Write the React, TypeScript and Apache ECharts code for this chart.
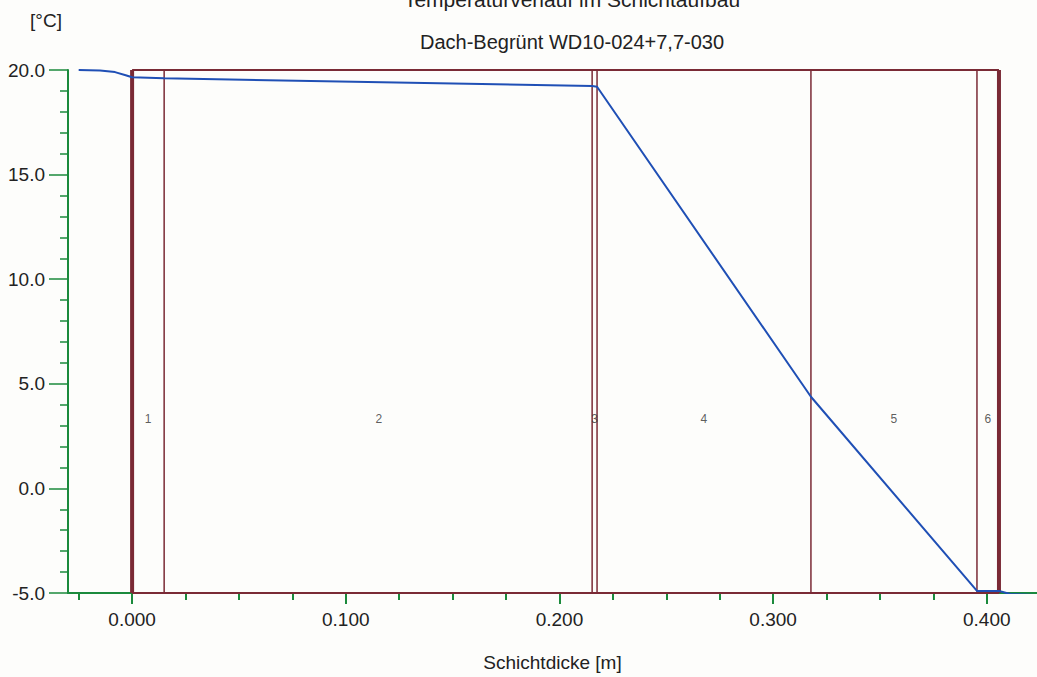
import React, { useEffect, useRef } from "react";
import * as echarts from "echarts";

const titleText = "Temperaturverlauf im Schichtaufbau";
const subtitleText = "Dach-Begrünt WD10-024+7,7-030";
const yUnit = "[°C]";
const xName = "Schichtdicke [m]";

// layer boundaries [m]
const boundaries = [0, 0.015, 0.2153, 0.2176, 0.3177, 0.3954, 0.4057];
const thickBoundaries = [0, 0.4057];
const layerLabels = ["1", "2", "3", "4", "5", "6"];
const layerLabelX = [0.0075, 0.1155, 0.2164, 0.2676, 0.3565, 0.4005];
const layerLabelY = 3.3;

// temperature curve
const tempX = [-0.025, -0.015, -0.008, -0.003, 0, 0.015, 0.2153, 0.2176, 0.3177, 0.3954, 0.4057, 0.411, 0.4235];
const tempY = [20.0, 19.98, 19.9, 19.75, 19.65, 19.6, 19.24, 19.2, 4.38, -4.9, -4.9, -5.05, -5.1];

const xMajorTicks = [0, 0.1, 0.2, 0.3, 0.4];
const xMinorTicks = [-0.025, 0.025, 0.05, 0.075, 0.125, 0.15, 0.175, 0.225, 0.25, 0.275, 0.325, 0.35, 0.375];

const X_MIN = -0.03;
const X_MAX = 0.4235;

const BROWN = "#7a2a35";
const GREEN = "#1b8a3c";
const BLUE = "#1f4fb5";
const FONT = "Liberation Sans";

export default function App() {
  const ref = useRef<HTMLDivElement>(null);
  useEffect(() => {
    if (!ref.current) return;
    const chart = echarts.init(ref.current, undefined, { renderer: "svg" });
    const top = 20, bottom = -5;
    const boxSeries: any[] = boundaries.map((b) => ({
      type: "line",
      data: [[b, bottom], [b, top]],
      symbol: "none",
      silent: true,
      lineStyle: { color: BROWN, width: thickBoundaries.includes(b) ? 4 : 1.5 },
      z: 2,
    }));
    boxSeries.push({
      type: "line",
      data: [[boundaries[0], top], [boundaries[boundaries.length - 1], top]],
      symbol: "none",
      lineStyle: { color: BROWN, width: 2 },
      z: 2,
    });
    boxSeries.push({
      type: "line",
      data: [[boundaries[0], bottom], [boundaries[boundaries.length - 1], bottom]],
      symbol: "none",
      lineStyle: { color: BROWN, width: 2 },
      z: 2,
    });
    const option: any = {
      animation: false,
      backgroundColor: "#fdfdfb",
      textStyle: { fontFamily: FONT },
      grid: { left: 68, right: 0, top: 70, bottom: 82, containLabel: false },
      xAxis: [
        {
          type: "value",
          min: X_MIN,
          max: X_MAX,
          axisLine: { onZero: false, lineStyle: { color: GREEN, width: 2 } },
          axisTick: { customValues: xMajorTicks, length: 11, lineStyle: { color: GREEN, width: 2 } },
          axisLabel: {
            customValues: xMajorTicks,
            formatter: (v: number) => v.toFixed(3),
            color: "#222",
            fontSize: 19,
            margin: 17,
            fontFamily: FONT,
          },
          splitLine: { show: false },
          name: xName,
          nameLocation: "middle",
          nameGap: 60,
          nameTextStyle: { color: "#222", fontSize: 19, fontFamily: FONT },
        },
        {
          type: "value",
          min: X_MIN,
          max: X_MAX,
          position: "bottom",
          axisLine: { show: false, onZero: false },
          axisTick: { customValues: xMinorTicks, length: 7, lineStyle: { color: GREEN, width: 2 } },
          axisLabel: { show: false },
          splitLine: { show: false },
        },
      ],
      yAxis: {
        type: "value",
        min: -5,
        max: 20,
        interval: 5,
        axisLine: { show: true, onZero: false, lineStyle: { color: GREEN, width: 2 } },
        axisTick: { show: true, length: 19, lineStyle: { color: GREEN, width: 1.5 } },
        minorTick: { show: true, splitNumber: 5, length: 8, lineStyle: { color: GREEN, width: 1.5 } },
        axisLabel: {
          formatter: (v: number) => v.toFixed(1),
          color: "#222",
          fontSize: 19,
          margin: 23,
          fontFamily: FONT,
        },
        splitLine: { show: false },
      },
      series: [
        ...boxSeries,
        {
          type: "line",
          data: tempX.map((x, i) => [x, tempY[i]]),
          symbol: "none",
          smooth: false,
          lineStyle: { color: BLUE, width: 2 },
          z: 5,
        },
        {
          type: "scatter",
          data: layerLabelX.map((x, i) => [x, layerLabelY, layerLabels[i]]),
          symbolSize: 0,
          silent: true,
          label: {
            show: true,
            position: "inside",
            formatter: (p: any) => p.data[2],
            color: "#333",
            fontSize: 12,
            fontFamily: FONT,
          },
          z: 6,
        },
      ],
      graphic: [
        {
          type: "text",
          x: 572,
          y: -1,
          style: { text: titleText, fontSize: 21, fill: "#222", fontFamily: FONT, align: "center", verticalAlign: "middle" },
        },
        {
          type: "text",
          x: 572,
          y: 42,
          style: { text: subtitleText, fontSize: 20, fill: "#222", fontFamily: FONT, align: "center", verticalAlign: "middle" },
        },
        {
          type: "text",
          x: 46,
          y: 20,
          style: { text: yUnit, fontSize: 19, fill: "#222", fontFamily: FONT, align: "center", verticalAlign: "middle" },
        },
      ],
    };
    chart.setOption(option);
    return () => chart.dispose();
  }, []);
  return <div ref={ref} style={{ width: 1037, height: 677, position: "absolute", left: 0, top: 0 }} />;
}
